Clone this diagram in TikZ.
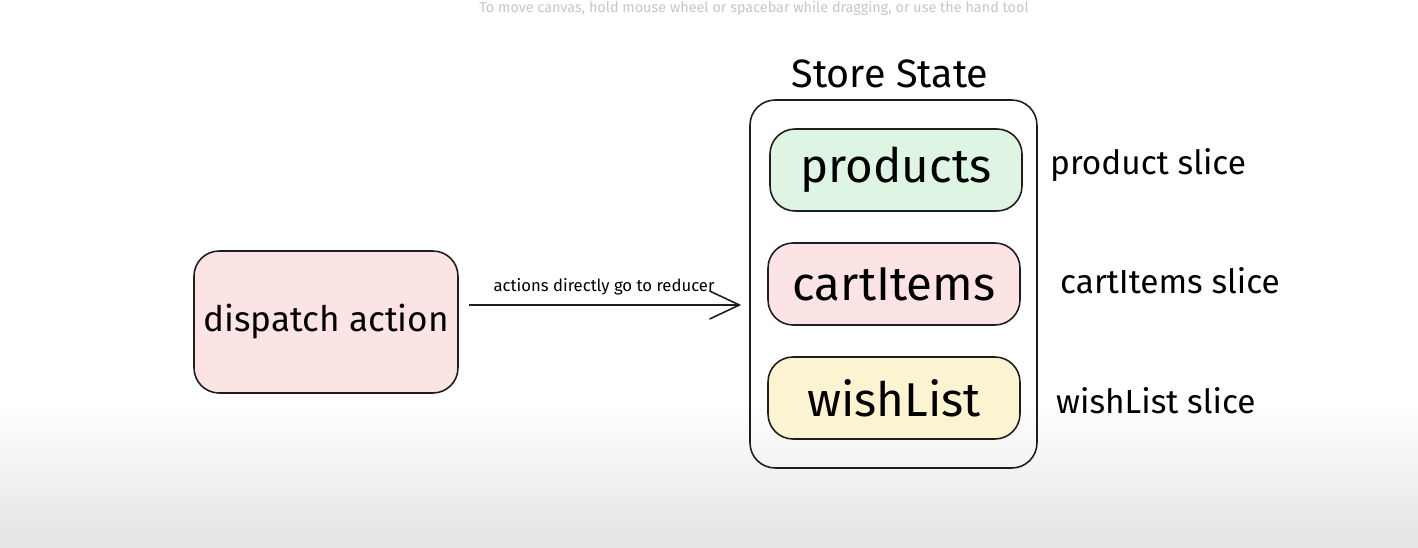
\documentclass[tikz,border=0pt]{standalone}
\usepackage{fontspec}
\setmainfont{Fira Sans}
\usepackage{tikz}
\usetikzlibrary{arrows.meta}
\usetikzlibrary{positioning}

\definecolor{ink}{HTML}{1E1E1E}
\definecolor{pinkfill}{HTML}{FCE3E4}
\definecolor{greenfill}{HTML}{DDF5E2}
\definecolor{yellowfill}{HTML}{FCF4D0}
\definecolor{floor}{HTML}{E4E4E4}

\begin{document}
\begin{tikzpicture}[x=0.02cm, y=-0.02cm,
    box/.style={draw=ink, line width=0.9pt, rounded corners=0.5cm},
    slicebox/.style={box, minimum width=5.04cm, minimum height=1.64cm,
      font=\fontsize{27}{30}\selectfont},
    slicelabel/.style={anchor=west, font=\fontsize{19}{23}\selectfont},
    flow/.style={draw=ink, line width=0.9pt,
      -{Straight Barb[length=17pt, width=16pt, line width=0.9pt]}}]

    \useasboundingbox (0, 0) rectangle (1418, 548);
    % screen background, darker near the bottom
    \shade[top color=white, bottom color=floor] (0, 400) rectangle (1418, 548);
    \node[text=gray!45, font=\fontsize{8.2}{9}\selectfont, inner sep=1pt] (hint) at (754, 8)
      {To move canvas, hold mouse wheel or spacebar while dragging, or use the hand tool};

    \node[box, fill=pinkfill, minimum width=5.28cm, minimum height=2.84cm,
      font=\fontsize{20}{24}\selectfont] (dispatch) at (326, 322) {dispatch action};

    \node[box, minimum width=5.74cm, minimum height=7.36cm] (store) at (893.5, 284) {};
    \node[font=\fontsize{22.5}{26}\selectfont] (storetitle) at (890, 74) {Store State};

    \node[slicebox, fill=greenfill] (products) at (896, 170) {products};
    \node[slicebox, fill=pinkfill] (cartitems) at (894, 284) {cartItems};
    \node[slicebox, fill=yellowfill] (wishlist) at (894, 398) {wishList};

    \node[slicelabel] (productslice) at (1044, 165) {product slice};
    \node[slicelabel] (cartslice) at (1054, 281) {cartItems slice};
    \node[slicelabel] (wishslice) at (1050, 401) {wishList slice};

    \draw[flow, shorten <=10*0.02cm, shorten >=8*0.02cm] (dispatch.east |- 0, 305)
      coordinate (from) -- (store.west |- 0, 305)
      node[midway, above=2pt, font=\fontsize{9.5}{11}\selectfont] {actions directly go to reducer};

  \end{tikzpicture}
\end{document}
